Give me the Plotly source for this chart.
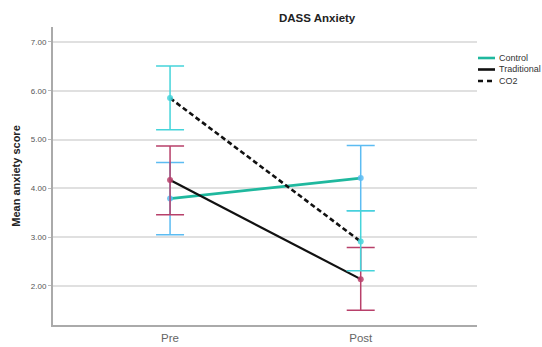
import plotly.graph_objects as go

# Time points and group means with 95% CI bounds
time_points = ["Pre", "Post"]

control_mean = [3.79, 4.21]
control_lo = [3.05, 3.54]
control_hi = [4.53, 4.88]

traditional_mean = [4.17, 2.14]
traditional_lo = [3.46, 1.50]
traditional_hi = [4.87, 2.79]

co2_mean = [5.85, 2.91]
co2_lo = [5.20, 2.31]
co2_hi = [6.51, 3.54]

y_ticks = [2, 3, 4, 5, 6, 7]
y_tick_labels = ["2.00", "3.00", "4.00", "5.00", "6.00", "7.00"]

groups = [
    # name, means, lo, hi, line colour, dash, line width, CI colour
    ("Control", control_mean, control_lo, control_hi, "#1fb89e", "solid", 2.6, "#5cbcf2"),
    ("Traditional", traditional_mean, traditional_lo, traditional_hi, "#111111", "solid", 2.2, "#b8406a"),
    ("CO2", co2_mean, co2_lo, co2_hi, "#111111", "5px,3px", 2.6, "#45d4da"),
]

FONT = "Liberation Sans, Arial, sans-serif"
fig = go.Figure()

# Mean profile lines
for name, m, lo, hi, lc, dash, lw, ec in groups:
    fig.add_trace(go.Scatter(
        x=time_points, y=m, mode="lines", name=name,
        line=dict(color=lc, width=lw, dash=dash),
        showlegend=False, hoverinfo="skip",
    ))

# Confidence-interval bars with mean markers
for name, m, lo, hi, lc, dash, lw, ec in groups:
    fig.add_trace(go.Scatter(
        x=time_points, y=m, mode="markers", name=name + " CI",
        marker=dict(color=ec, size=6, opacity=0.85),
        error_y=dict(
            type="data", symmetric=False,
            array=[h - v for h, v in zip(hi, m)],
            arrayminus=[v - l for v, l in zip(m, lo)],
            color=ec, thickness=1.5, width=14,
        ),
        showlegend=False,
    ))

# Legend drawn as short line samples with labels beside them
legend_items = [("Control", "#1fb89e", "solid"), ("Traditional", "#111111", "solid"), ("CO2", "#111111", "5px,4px")]
px_w, px_h = 424, 298
for i, (label, col, dash) in enumerate(legend_items):
    yp = 1 - (58 + 11.5 * i - 27) / px_h
    x0 = (478 - 53) / px_w
    x1 = (495 - 53) / px_w
    fig.add_shape(type="line", xref="paper", yref="paper", x0=x0, x1=x1, y0=yp, y1=yp,
                  line=dict(color=col, width=2.6, dash=dash))
    fig.add_annotation(xref="paper", yref="paper", x=(497 - 53) / px_w, y=yp,
                       text=label, showarrow=False, xanchor="left", yanchor="middle",
                       font=dict(family=FONT, size=9, color="#333333"))

fig.add_annotation(xref="paper", yref="paper", x=(317 - 53) / px_w, y=1 + (27 - 18) / px_h,
                   text="<b>DASS Anxiety</b>", showarrow=False, xanchor="center", yanchor="middle",
                   font=dict(family=FONT, size=11.5, color="#222222"))

fig.update_layout(
    width=542, height=347,
    margin=dict(l=53, r=65, t=27, b=22, autoexpand=False),
    paper_bgcolor="white", plot_bgcolor="white",
    font=dict(family=FONT, color="#444444"),
    showlegend=False,
)
fig.update_xaxes(
    type="category", range=[-0.614, 1.61], automargin=False,
    showgrid=False, zeroline=False,
    showline=True, linecolor="#aaaaaa", linewidth=2,
    ticks="", ticklabelstandoff=1,
    tickfont=dict(family=FONT, size=11.5, color="#666666"),
)
fig.update_yaxes(
    range=[1.2, 7.307], tickvals=y_ticks, ticktext=y_tick_labels, automargin=False,
    showgrid=True, gridcolor="#e0e0e0", gridwidth=2, zeroline=False,
    showline=True, linecolor="#aaaaaa", linewidth=2,
    ticks="outside", ticklen=3, tickcolor="#bbbbbb",
    tickfont=dict(family=FONT, size=8, color="#555555"),
    title=dict(text="<b>Mean anxiety score</b>", font=dict(family=FONT, size=11, color="#222222"), standoff=8),
)

fig.write_html("out.html")
